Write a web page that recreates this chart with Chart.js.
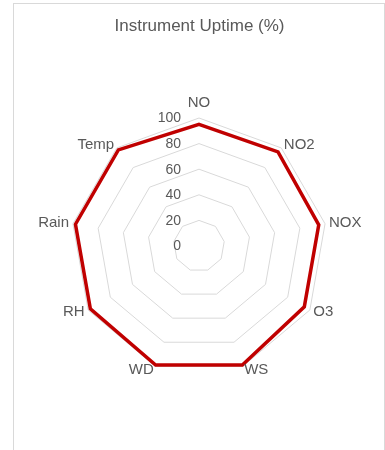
<!DOCTYPE html>
<html>
<head>
<meta charset="utf-8">
<script src="https://cdn.jsdelivr.net/npm/chart.js@4/dist/chart.umd.min.js"></script>
<style>
  html, body { margin: 0; padding: 0; background: #ffffff; overflow: hidden; }
  #frame {
    position: absolute; left: 13px; top: 3px; width: 370px; height: 470px;
    border: 1px solid #d9d9d9; box-sizing: content-box;
  }
  #chart { position: absolute; left: 0; top: 0; }
</style>
</head>
<body>
<div id="frame"></div>
<canvas id="chart" width="385" height="450"></canvas>
<script>
// Instruments and their uptime share over the reporting period
const instruments = ['NO', 'NO2', 'NOX', 'O3', 'WS', 'WD', 'RH', 'Rain', 'Temp'];
const uptime = [95, 96, 95, 95, 99, 99, 98, 98, 98];
const tickValues = [0, 20, 40, 60, 80, 100];

const FONT = "'Liberation Sans', Arial, sans-serif";
const TEXT = '#595959';

// Value labels sit to the left of the vertical axis, right-aligned
const tickLabels = {
  id: 'tickLabels',
  afterDatasetsDraw(chart) {
    const s = chart.scales.r;
    const ctx = chart.ctx;
    ctx.save();
    ctx.font = '14px ' + FONT;
    ctx.fillStyle = TEXT;
    ctx.textAlign = 'right';
    ctx.textBaseline = 'middle';
    tickValues.forEach(v => {
      const y = s.yCenter - s.getDistanceFromCenterForValue(v);
      ctx.fillText(String(v), s.xCenter - 18, y + 0.5);
    });
    ctx.restore();
  }
};

// Category names placed just outside the outer ring
const spokeLabels = {
  id: 'spokeLabels',
  afterDatasetsDraw(chart) {
    const s = chart.scales.r;
    const ctx = chart.ctx;
    ctx.save();
    ctx.font = '15px ' + FONT;
    ctx.fillStyle = TEXT;
    ctx.textBaseline = 'middle';
    instruments.forEach((name, i) => {
      const p = s.getPointPosition(i, s.drawingArea + 4);
      let deg = Math.round(s.getIndexAngle(i) * 180 / Math.PI) % 360;
      let y = p.y;
      if (deg === 0) { ctx.textAlign = 'center'; y -= 11; }
      else if (deg === 180) { ctx.textAlign = 'center'; y += 11; }
      else if (deg < 180) { ctx.textAlign = 'left'; }
      else { ctx.textAlign = 'right'; }
      ctx.fillText(name, p.x, y);
    });
    ctx.restore();
  }
};

new Chart(document.getElementById('chart'), {
  type: 'radar',
  data: {
    labels: instruments,
    datasets: [{
      label: 'Uptime',
      data: uptime,
      borderColor: '#c00000',
      borderWidth: 3.5,
      backgroundColor: 'rgba(0,0,0,0)',
      fill: false,
      pointRadius: 0,
      pointHoverRadius: 0,
      tension: 0
    }]
  },
  options: {
    responsive: false,
    animation: false,
    events: [],
    layout: { padding: { left: 71, right: 57, top: 6, bottom: 75 } },
    plugins: {
      legend: { display: false },
      tooltip: { enabled: false },
      title: {
        display: true,
        text: 'Instrument Uptime (%)',
        color: TEXT,
        font: { family: FONT, size: 17, weight: 'normal' },
        padding: { top: 10, bottom: 81.6 }
      }
    },
    scales: {
      r: {
        min: 0,
        max: 100,
        ticks: { stepSize: 20, display: false },
        grid: { color: '#d9d9d9', lineWidth: 1, circular: false },
        angleLines: { display: false },
        pointLabels: { display: false }
      }
    }
  },
  plugins: [tickLabels, spokeLabels]
});
</script>
</body>
</html>
